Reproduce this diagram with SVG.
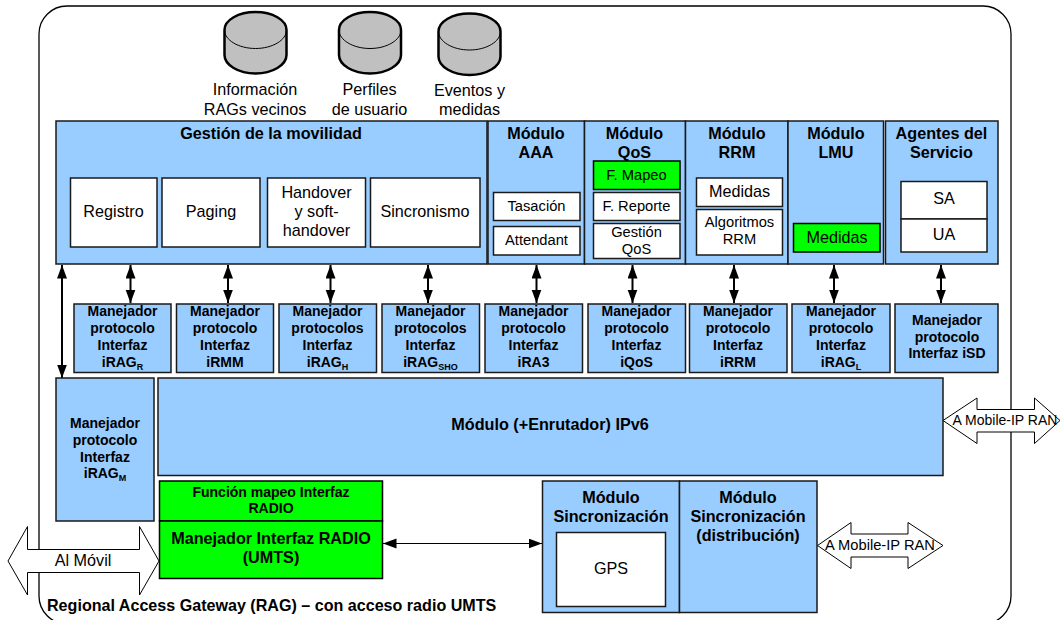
<svg xmlns="http://www.w3.org/2000/svg" width="1060" height="620" viewBox="0 0 1060 620">
<style>
text{font-family:"Liberation Sans",Arial,sans-serif;text-anchor:middle;fill:#000}
.b{fill:#99CCFF;stroke:#1a1a1a;stroke-width:1.5}
.w{fill:#fff;stroke:#1a1a1a;stroke-width:1.5}
.g{fill:#00FF00;stroke:#000;stroke-width:1.5}
.cy{fill:#C0C0C0;stroke:#000;stroke-width:2.5}
.ca{fill:none;stroke:#000;stroke-width:1}
.h{font-weight:bold;font-size:16.2px}
.m{font-weight:bold;font-size:14px}
.t{font-size:16.200px}
.s{font-size:14.700px}
.ba{fill:#fff;stroke:#000;stroke-width:1}
.c{fill:none;stroke:#000;stroke-width:2;marker-start:url(#ah);marker-end:url(#ah)}
.sub{font-size:9px;font-weight:bold}
</style>
<defs>
<marker id="ah" markerUnits="userSpaceOnUse" markerWidth="14" markerHeight="11" refX="13.5" refY="5" orient="auto-start-reverse"><path d="M0 0L13.5 5L0 10Z" fill="#000"/></marker>
<g id="cyl"><path class="cy" d="M0 19V44C0 54 14 62.500 31 62.500S62 54 62 44V19C62 9 48 1 31 1S0 9 0 19Z"/><path class="ca" d="M0 19C0 29 14 37.500 31 37.500S62 29 62 19"/></g>
</defs>
<rect id="frame" x="39" y="6" width="972" height="618" rx="28" ry="28" fill="#fff" stroke="#000" stroke-width="1.3"/>
<g id="db1"><use href="#cyl" x="224.500" y="11"/><text class="t" x="255" y="94.500">Información</text><text class="t" x="255" y="114.500">RAGs vecinos</text></g>
<g id="db2"><use href="#cyl" x="339" y="11"/><text class="t" x="369.500" y="94.500">Perfiles</text><text class="t" x="369.500" y="114.500">de usuario</text></g>
<g id="db3"><use href="#cyl" x="438.500" y="12.500"/><text class="t" x="469.500" y="96">Eventos y</text><text class="t" x="469.500" y="115">medidas</text></g>

<g id="movilidad"><rect class="b" x="56" y="121" width="431" height="143"/><text class="h" x="271" y="139">Gestión de la movilidad</text>
<rect class="w" x="70.500" y="178" width="86.500" height="69"/><text class="t" x="113.500" y="216.500">Registro</text>
<rect class="w" x="162" y="178" width="98" height="69"/><text class="t" x="211" y="216.500">Paging</text>
<rect class="w" x="267.500" y="178" width="98" height="69"/><text class="t" x="316.500" y="197.500">Handover</text><text class="t" x="316.500" y="216.500">y soft-</text><text class="t" x="316.500" y="235.500">handover</text>
<rect class="w" x="370.500" y="178" width="109.500" height="69"/><text class="t" x="425" y="216.500">Sincronismo</text></g>

<g id="aaa"><rect class="b" x="488" y="121" width="96.500" height="143"/><text class="h" x="536" y="139">Módulo</text><text class="h" x="536" y="158">AAA</text>
<rect class="w" x="493.500" y="192.500" width="86.500" height="28"/><text class="s" x="536.500" y="210.500">Tasación</text>
<rect class="w" x="493.500" y="226.500" width="86.500" height="28.500"/><text class="s" x="536.500" y="245">Attendant</text></g>

<g id="qos"><rect class="b" x="584.500" y="121" width="101" height="143"/><text class="h" x="634.500" y="139">Módulo</text><text class="h" x="634.500" y="158">QoS</text>
<rect class="g" x="593.500" y="161" width="86.500" height="28.500"/><text class="s" x="636.500" y="180">F. Mapeo</text>
<rect class="w" x="593.500" y="192.500" width="86.500" height="28"/><text class="s" x="636.500" y="210.500">F. Reporte</text>
<rect class="w" x="593.500" y="223.500" width="86.500" height="35"/><text class="s" x="636.500" y="236.500">Gestión</text><text class="s" x="636.500" y="253.500">QoS</text></g>

<g id="rrm"><rect class="b" x="685.500" y="121" width="102.500" height="143"/><text class="h" x="737" y="139">Módulo</text><text class="h" x="737" y="158">RRM</text>
<rect class="w" x="696.500" y="178" width="86" height="28.500"/><text class="t" x="739.500" y="197">Medidas</text>
<rect class="w" x="696.500" y="209.500" width="86" height="45.500"/><text class="s" x="739.500" y="227">Algoritmos</text><text class="s" x="739.500" y="244">RRM</text></g>

<g id="lmu"><rect class="b" x="788" y="121" width="95.500" height="143"/><text class="h" x="836" y="139">Módulo</text><text class="h" x="836" y="158">LMU</text>
<rect class="g" x="793.500" y="223.500" width="86.500" height="28.500"/><text class="t" x="837" y="243">Medidas</text></g>

<g id="agentes"><rect class="b" x="885.500" y="121" width="112.500" height="143"/><text class="h" x="941.500" y="139">Agentes del</text><text class="h" x="941.500" y="158">Servicio</text>
<rect class="w" x="901" y="181.500" width="86" height="37.500"/><text class="t" x="944" y="204">SA</text>
<rect class="w" x="901" y="219" width="86" height="33"/><text class="t" x="944" y="240">UA</text></g>

<g id="connectors">
<path class="c" d="M130.500 265V303"/><path class="c" d="M228 265V303"/><path class="c" d="M330.500 265V303"/><path class="c" d="M428 265V303"/>
<path class="c" d="M536.500 265V303"/><path class="c" d="M632.500 265V303"/><path class="c" d="M734 265V303"/><path class="c" d="M834 265V303"/><path class="c" d="M941 265V303"/>
<path class="c" d="M62 265V378"/>
<path class="c" style="stroke-width:1.200" d="M383 543.500H542"/>
</g>

<g id="m1"><rect class="b" x="74" y="304" width="97" height="68.500"/><text class="m" x="122.500" y="315.500">Manejador</text><text class="m" x="122.500" y="332.500">protocolo</text><text class="m" x="122.500" y="349.500">Interfaz</text><text class="m" x="122.500" y="366.500">iRAG<tspan class="sub" dy="3">R</tspan></text></g>
<g id="m2"><rect class="b" x="176.500" y="304" width="97" height="68.500"/><text class="m" x="225" y="315.500">Manejador</text><text class="m" x="225" y="332.500">protocolo</text><text class="m" x="225" y="349.500">Interfaz</text><text class="m" x="225" y="366.500">iRMM</text></g>
<g id="m3"><rect class="b" x="279" y="304" width="97.500" height="68.500"/><text class="m" x="327.500" y="315.500">Manejador</text><text class="m" x="327.500" y="332.500">protocolos</text><text class="m" x="327.500" y="349.500">Interfaz</text><text class="m" x="327.500" y="366.500">iRAG<tspan class="sub" dy="3">H</tspan></text></g>
<g id="m4"><rect class="b" x="382" y="304" width="97.500" height="68.500"/><text class="m" x="430.500" y="315.500">Manejador</text><text class="m" x="430.500" y="332.500">protocolos</text><text class="m" x="430.500" y="349.500">Interfaz</text><text class="m" x="430.500" y="366.500">iRAG<tspan class="sub" dy="3">SHO</tspan></text></g>
<g id="m5"><rect class="b" x="485" y="304" width="97.500" height="68.500"/><text class="m" x="533.500" y="315.500">Manejador</text><text class="m" x="533.500" y="332.500">protocolo</text><text class="m" x="533.500" y="349.500">Interfaz</text><text class="m" x="533.500" y="366.500">iRA3</text></g>
<g id="m6"><rect class="b" x="588" y="304" width="97.500" height="68.500"/><text class="m" x="636.500" y="315.500">Manejador</text><text class="m" x="636.500" y="332.500">protocolo</text><text class="m" x="636.500" y="349.500">Interfaz</text><text class="m" x="636.500" y="366.500">iQoS</text></g>
<g id="m7"><rect class="b" x="689.500" y="304" width="97.500" height="68.500"/><text class="m" x="738" y="315.500">Manejador</text><text class="m" x="738" y="332.500">protocolo</text><text class="m" x="738" y="349.500">Interfaz</text><text class="m" x="738" y="366.500">iRRM</text></g>
<g id="m8"><rect class="b" x="792" y="304" width="98" height="68.500"/><text class="m" x="841" y="315.500">Manejador</text><text class="m" x="841" y="332.500">protocolo</text><text class="m" x="841" y="349.500">Interfaz</text><text class="m" x="841" y="366.500">iRAG<tspan class="sub" dy="3">L</tspan></text></g>
<g id="m9"><rect class="b" x="895" y="304" width="103" height="68.500"/><text class="m" x="947" y="324.500">Manejador</text><text class="m" x="947" y="341.500">protocolo</text><text class="m" x="947" y="358">Interfaz iSD</text></g>

<g id="ipv6"><rect class="b" x="158" y="378" width="785" height="97.500"/><text class="h" x="550" y="430">Módulo (+Enrutador) IPv6</text></g>
<g id="iragm"><rect class="b" x="56" y="378" width="98" height="143"/><text class="m" x="105" y="428">Manejador</text><text class="m" x="105" y="445">protocolo</text><text class="m" x="105" y="461.500">Interfaz</text><text class="m" x="105" y="478">iRAG<tspan class="sub" dy="3">M</tspan></text></g>

<g id="mapeo"><rect class="g" x="159.500" y="481" width="223" height="40"/><text class="m" x="271" y="497">Función mapeo Interfaz</text><text class="m" x="271" y="513">RADIO</text></g>
<g id="radio"><rect class="g" x="159.500" y="521" width="223" height="57.500"/><text class="h" x="271" y="544">Manejador Interfaz RADIO</text><text class="h" x="271" y="563">(UMTS)</text></g>

<g id="sync"><rect class="b" x="542.500" y="481" width="137" height="131.500"/><text class="h" x="611" y="503">Módulo</text><text class="h" x="611" y="522">Sincronización</text>
<rect class="w" x="556.500" y="532.500" width="109" height="74"/><text class="t" x="611" y="574">GPS</text></g>
<g id="syncd"><rect class="b" x="679.500" y="481" width="137.500" height="131.500"/><text class="h" x="748" y="503">Módulo</text><text class="h" x="748" y="522">Sincronización</text><text class="h" x="748" y="541">(distribución)</text></g>

<g id="almovil"><path class="ba" d="M8 561L27.500 526.500V549.500H139.500V526.500L159 561L139.500 595V572.500H27.500V595Z"/><text class="t" x="83" y="565.500">Al Móvil</text></g>
<g id="ran1"><path class="ba" d="M943 420.500L977 398V409.500H1034.500V398L1060 420.500L1034.500 443.500V432H977V443.500Z"/><text class="s" style="font-size:14px" x="1005" y="425">A Mobile-IP RAN</text></g>
<g id="ran2"><path class="ba" d="M817.500 545.500L851 522.500V534H908V522.500L943 545.500L908 568.500V557H851V568.500Z"/><text class="s" x="880" y="550">A Mobile-IP RAN</text></g>

<text id="caption" x="47" y="611" style="text-anchor:start;font-weight:bold;font-size:16.100px">Regional Access Gateway (RAG) – con acceso radio UMTS</text>
</svg>
